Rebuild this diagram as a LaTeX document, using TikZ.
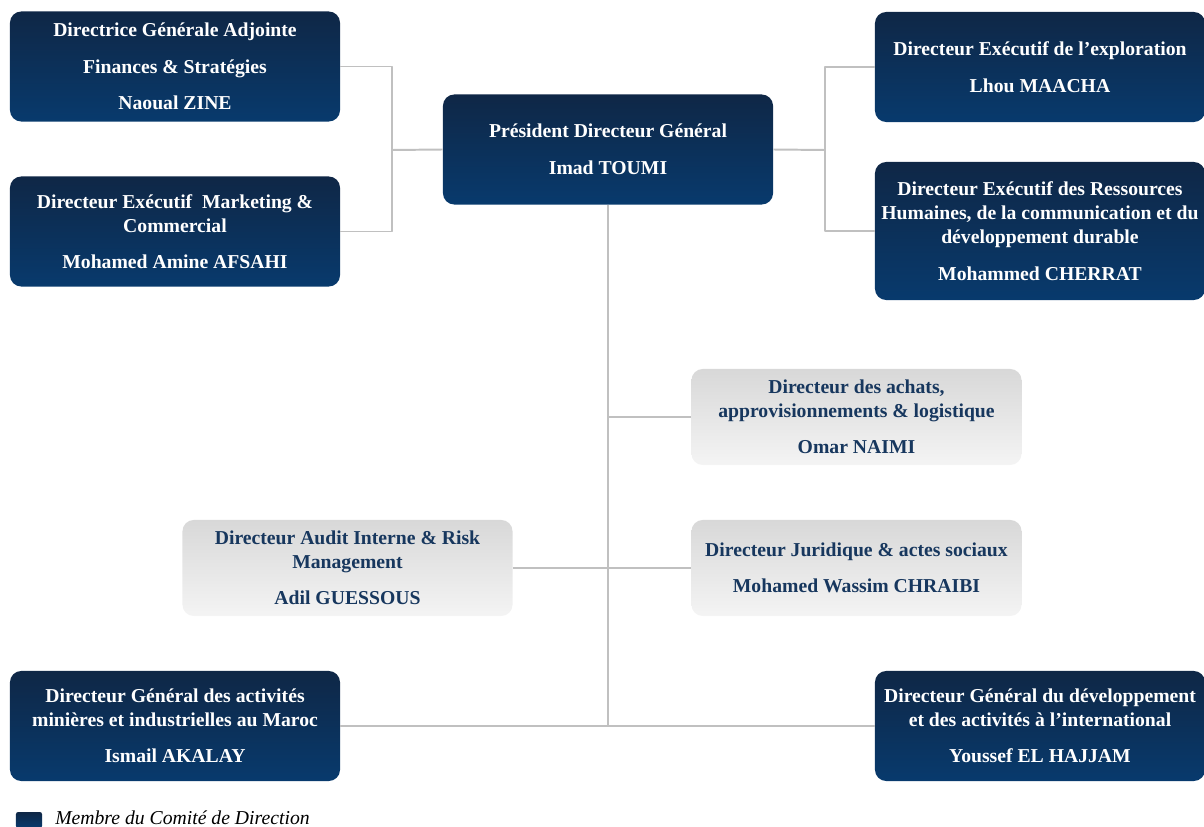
\documentclass[tikz,border=0pt]{standalone}
\usepackage{fontspec}
\setmainfont{Liberation Serif}
\definecolor{navytop}{HTML}{0F2746}
\definecolor{navybot}{HTML}{083A6D}
\definecolor{navytxt}{HTML}{17375E}
\definecolor{greytop}{HTML}{D8D8D8}
\definecolor{greybot}{HTML}{F4F4F4}
\definecolor{linegrey}{HTML}{C0C0C0}
\begin{document}
\begin{tikzpicture}[x=0.025cm, y=-0.025cm, line join=round,
    box/.style={rounded corners=8pt, align=center, inner sep=0pt,
        minimum width=8.25cm, minimum height=2.75cm,
        font=\fontsize{14}{17}\selectfont\bfseries},
    dark/.style={box, top color=navytop, bottom color=navybot, text=white},
    light/.style={box, top color=greytop, bottom color=greybot, text=navytxt, minimum height=2.4cm},
    conn/.style={draw=linegrey, line width=1.4pt}]
    \useasboundingbox (0,0) rectangle (1204,827);
    % top row
    \node[dark] (dga) at (175,66.5) {Directrice Générale Adjointe\\[9pt]Finances \& Stratégies\\[9pt]Naoual ZINE};
    \node[dark] (mkt) at (175,231.5) {Directeur Exécutif\ \ Marketing \&\\Commercial\\[9pt]Mohamed Amine AFSAHI};
    \node[dark] (pdg) at (608,149.5) {Président Directeur Général\\[9pt]Imad TOUMI};
    \node[dark] (explo) at (1040,67) {Directeur Exécutif de l’exploration\\[9pt]Lhou MAACHA};
    \node[dark, minimum height=3.45cm] (rh) at (1040,231) {Directeur Exécutif des Ressources\\Humaines, de la communication et du\\développement durable\\[9pt]Mohammed CHERRAT};
    % middle
    \node[light] (achats) at (856.5,417) {Directeur des achats,\\approvisionnements \& logistique\\[9pt]Omar NAIMI};
    \node[light] (audit) at (347.5,568) {Directeur Audit Interne \& Risk\\Management\\[9pt]Adil GUESSOUS};
    \node[light] (juri) at (856.5,568) {Directeur Juridique \& actes sociaux\\[9pt]Mohamed Wassim CHRAIBI};
    % bottom row
    \node[dark] (dgmaroc) at (175,726) {Directeur Général des activités\\minières et industrielles au Maroc\\[9pt]Ismail AKALAY};
    \node[dark] (dginter) at (1040,726) {Directeur Général du développement\\et des activités à l’international\\[9pt]Youssef EL HAJJAM};
    % connectors
    \coordinate (lj) at (392,150);
    \coordinate (rj) at (825,150);
    \coordinate (ta) at (pdg.south |- achats.west);
    \coordinate (tb) at (pdg.south |- dgmaroc.east);
    \draw[conn] (dga.east) -| (lj) |- (mkt.east);
    \draw[conn] (lj) -- (pdg.west);
    \draw[conn] (explo.west) -| (rj) |- (rh.west);
    \draw[conn] (pdg.east) -- (rj);
    \draw[conn] (pdg.south) -- (tb);
    \draw[conn] (ta) -- (achats.west);
    \draw[conn] (audit.east) -- (juri.west);
    \draw[conn] (dgmaroc.east) -- (dginter.west);
    % legend
    \node[rounded corners=1.5pt, top color=navytop, bottom color=navybot, minimum width=0.65cm, minimum height=0.4cm, inner sep=0pt] (leg) at (29,820) {};
    \node[anchor=base west, font=\fontsize{14}{16}\selectfont\itshape, inner sep=0pt] (legtxt) at (55,824.5) {Membre du Comité de Direction};
\end{tikzpicture}
\end{document}
